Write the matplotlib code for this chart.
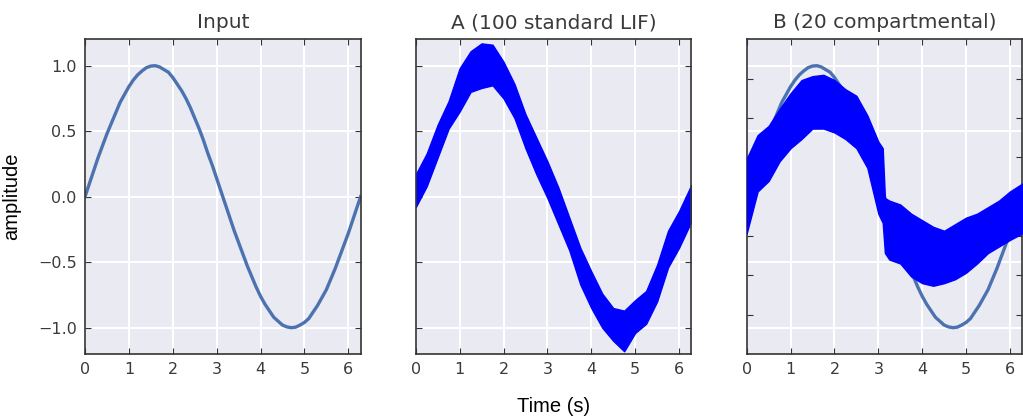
import numpy as np
import matplotlib
matplotlib.use('Agg')
import matplotlib.pyplot as plt

# input sine (every 0.1 s)
t_in = [0.0, 0.1, 0.2, 0.3, 0.4, 0.5, 0.6, 0.7, 0.8, 0.9, 1.0, 1.1, 1.2, 1.3, 1.4, 1.5,
        1.6, 1.7, 1.8, 1.9, 2.0, 2.1, 2.2, 2.3, 2.4, 2.5, 2.6, 2.7, 2.8, 2.9, 3.0, 3.1,
        3.2, 3.3, 3.4, 3.5, 3.6, 3.7, 3.8, 3.9, 4.0, 4.1, 4.2, 4.3, 4.4, 4.5, 4.6, 4.7,
        4.8, 4.9, 5.0, 5.1, 5.2, 5.3, 5.4, 5.5, 5.6, 5.7, 5.8, 5.9, 6.0, 6.1, 6.2, 6.28]
y_in = [0.0, 0.10, 0.20, 0.30, 0.39, 0.48, 0.56, 0.64, 0.72, 0.78, 0.84, 0.89, 0.93, 0.96,
        0.985, 0.997, 1.0, 0.99, 0.97, 0.95, 0.91, 0.86, 0.81, 0.75, 0.68, 0.60, 0.52, 0.43,
        0.33, 0.24, 0.14, 0.04, -0.06, -0.16, -0.26, -0.35, -0.44, -0.53, -0.61, -0.69,
        -0.76, -0.82, -0.87, -0.92, -0.95, -0.98, -0.994, -1.0, -0.996, -0.98, -0.96,
        -0.93, -0.88, -0.83, -0.77, -0.71, -0.63, -0.55, -0.46, -0.37, -0.28, -0.18,
        -0.08, 0.0]

# decoded output A (100 standard LIF): upper / lower edge of the noisy trace
t_a = [0.0, 0.25, 0.5, 0.75, 1.0, 1.25, 1.5, 1.75, 2.0, 2.25, 2.5, 2.75, 3.0, 3.25, 3.5,
       3.75, 4.0, 4.25, 4.5, 4.75, 5.0, 5.25, 5.5, 5.75, 6.0, 6.28]
a_hi = [0.17, 0.33, 0.55, 0.73, 0.98, 1.11, 1.17, 1.16, 1.03, 0.86, 0.63, 0.45, 0.27, 0.07,
        -0.16, -0.39, -0.57, -0.74, -0.85, -0.87, -0.79, -0.72, -0.52, -0.26, -0.11, 0.09]
a_lo = [-0.08, 0.08, 0.30, 0.52, 0.65, 0.80, 0.83, 0.85, 0.75, 0.60, 0.37, 0.17, -0.01, -0.21,
        -0.41, -0.67, -0.85, -1.00, -1.10, -1.18, -1.04, -0.97, -0.80, -0.54, -0.39, -0.19]

# decoded output B (20 compartmental)
t_b = [0.0, 0.25, 0.5, 0.75, 1.0, 1.25, 1.5, 1.75, 2.0, 2.25, 2.5, 2.75, 3.0, 3.1, 3.15,
       3.25, 3.5, 3.75, 4.0, 4.25, 4.5, 4.75, 5.0, 5.25, 5.5, 5.75, 6.0, 6.28]
b_hi = [0.29, 0.47, 0.54, 0.67, 0.79, 0.89, 0.92, 0.93, 0.89, 0.82, 0.77, 0.62, 0.42, 0.37,
        -0.01, -0.03, -0.06, -0.13, -0.18, -0.23, -0.26, -0.21, -0.16, -0.13, -0.08, -0.03,
        0.04, 0.10]
b_lo = [-0.28, 0.04, 0.12, 0.27, 0.37, 0.44, 0.52, 0.52, 0.49, 0.44, 0.37, 0.22, -0.13, -0.20,
        -0.43, -0.48, -0.51, -0.61, -0.66, -0.68, -0.66, -0.63, -0.58, -0.51, -0.43, -0.38,
        -0.33, -0.28]

titles = ['Input', 'A (100 standard LIF)', 'B (20 compartmental)']
xticks = [0, 1, 2, 3, 4, 5, 6]
yticks = [-1.0, -0.5, 0.0, 0.5, 1.0]
b_ticks = [-0.9, -0.6, -0.3, 0.0, 0.3, 0.6, 0.9]

sine_col = '#4C72B0'
txt = '#3a3a3a'

fig = plt.figure(figsize=(10.23, 4.19), dpi=100)
lefts = [0.0831, 0.4064, 0.7299]
axes = [fig.add_axes([l, 0.1554, 0.2695, 0.7504]) for l in lefts]

for i, ax in enumerate(axes):
    ax.set_facecolor('#EAEAF2')
    ax.set_xlim(0, 6.283)
    ax.set_ylim(-1.2, 1.2)
    ax.set_xticks(xticks)
    for s in ax.spines.values():
        s.set_color('#333333')
        s.set_linewidth(1.2)
    ax.tick_params(which='major', direction='in', length=4, width=0.8, color='#333333',
                   top=True, right=True, labelsize=11.5, labelcolor=txt, pad=6)
    ax.set_title(titles[i], fontsize=14.5, color=txt, pad=8)
    if i == 2:
        ax.set_yticks(b_ticks)
        ax.set_yticks(yticks, minor=True)
        ax.tick_params(which='minor', length=0)
        ax.grid(True, which='minor', axis='y', color='white', lw=1.5)
        ax.grid(True, which='major', axis='x', color='white', lw=1.5)
    else:
        ax.set_yticks(yticks)
        ax.grid(True, color='white', lw=1.5)
    ax.set_axisbelow(True)
    if i > 0:
        ax.set_yticklabels([])

axes[0].plot(t_in, y_in, color=sine_col, lw=2.4)
axes[0].set_ylabel('amplitude', family='Liberation Sans', fontsize=14.5, color='black', labelpad=12)

axes[1].fill_between(t_a, a_lo, a_hi, color='blue', lw=1.0)
axes[1].set_xlabel('Time (s)', family='Liberation Sans', fontsize=14.5, color='black', labelpad=14)

# in B the decoded trace covers the target sine
axes[2].plot(t_in, y_in, color=sine_col, lw=2.4, zorder=2)
axes[2].fill_between(t_b, b_lo, b_hi, color='blue', lw=1.0, zorder=3)

fig.savefig('out.png', dpi=100)
